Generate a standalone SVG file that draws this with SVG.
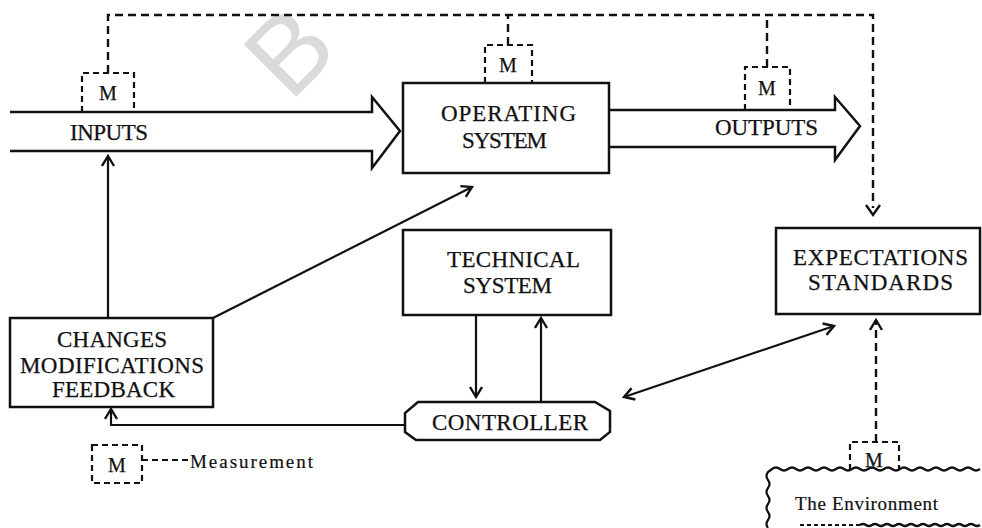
<svg xmlns="http://www.w3.org/2000/svg" width="982" height="528" viewBox="0 0 982 528">
  <defs>
    <style>
      .box { fill: #ffffff; stroke: #111; stroke-width: 2.5; }
      .solid { fill: none; stroke: #111; stroke-width: 2.2; }
      .flow { fill: #ffffff; stroke: #111; stroke-width: 2.5; stroke-linejoin: miter; }
      .dash { fill: none; stroke: #111; stroke-width: 2.4; stroke-dasharray: 8 5; }
      .mbox { fill: none; stroke: #111; stroke-width: 2.2; stroke-dasharray: 6 4; }
      .lbl { font-family: "Liberation Serif", "Times New Roman", serif; font-size: 23px; fill: #111; stroke: #111; stroke-width: 0.25; }
      .m { font-family: "Liberation Serif", "Times New Roman", serif; font-size: 20px; fill: #111; text-anchor: middle; stroke: #111; stroke-width: 0.25; }
      .small { font-family: "Liberation Serif", "Times New Roman", serif; font-size: 19px; fill: #111; stroke: #111; stroke-width: 0.2; }
      .wm { font-family: "Liberation Sans", Arial, sans-serif; font-size: 108px; fill: #dadada; }
    </style>
    <marker id="arr" markerUnits="userSpaceOnUse" markerWidth="16" markerHeight="16" refX="11" refY="7" orient="auto-start-reverse">
      <path d="M1,1 L11,7 L1,13" fill="none" stroke="#111" stroke-width="2.4"/>
    </marker>
  </defs>

  <rect width="982" height="528" fill="#ffffff"/>

  <!-- faint watermark letter -->
  <text class="wm" transform="translate(290,103) rotate(-45)">B</text>

  <!-- flow arrows -->
  <g id="inputs">
    <path class="flow" d="M10,112 L372,112 L372,97 L400,131 L372,168 L372,151 L10,151"/>
    <text class="lbl" x="70" y="140" textLength="78" lengthAdjust="spacing">INPUTS</text>
  </g>
  <g id="outputs">
    <path class="flow" d="M609,110 L835,110 L835,97 L860,126 L835,160 L835,147 L609,147"/>
    <text class="lbl" x="715" y="135" textLength="103" lengthAdjust="spacing">OUTPUTS</text>
  </g>

  <!-- connectors -->
  <g id="connectors">
    <!-- measurement loop along the top -->
    <path class="dash" d="M108,73 L108,15 L873,15 L873,208"/>
    <path class="dash" d="M508,45 L508,15"/>
    <path class="dash" d="M767,67 L767,15"/>
    <path d="M866,205 L873,215 L880,205" fill="none" stroke="#111" stroke-width="2.4"/>
    <!-- environment measurement up to standards -->
    <path class="dash" d="M876,442 L876,320" marker-end="url(#arr)"/>
    <!-- changes to inputs -->
    <path class="solid" d="M108,318 L108,156" marker-end="url(#arr)"/>
    <!-- changes to operating system -->
    <path class="solid" d="M213,318 L472,187" marker-end="url(#arr)"/>
    <!-- technical system and controller -->
    <path class="solid" d="M476,316 L476,397" marker-end="url(#arr)"/>
    <path class="solid" d="M541,402 L541,318" marker-end="url(#arr)"/>
    <!-- controller to changes -->
    <path class="solid" d="M405,425 L111,425 L111,409" marker-end="url(#arr)"/>
    <!-- controller and standards -->
    <path class="solid" d="M624,397 L834,326" marker-start="url(#arr)" marker-end="url(#arr)"/>
  </g>

  <!-- measurement points -->
  <g id="m-inputs">
    <path class="mbox" d="M82,112 L82,73 L134,73 L134,112"/>
    <text class="m" x="108" y="100">M</text>
  </g>
  <g id="m-operating">
    <path class="mbox" d="M485,83 L485,45 L532,45 L532,83"/>
    <text class="m" x="508" y="72">M</text>
  </g>
  <g id="m-outputs">
    <path class="mbox" d="M745,110 L745,67 L790,67 L790,110"/>
    <text class="m" x="767" y="95">M</text>
  </g>
  <g id="m-environment">
    <path class="mbox" d="M850,470 L850,442 L899,442 L899,470"/>
    <text class="m" x="874" y="467">M</text>
  </g>

  <!-- nodes -->
  <g id="operating-system">
    <rect class="box" x="403" y="83" width="206" height="90"/>
    <text class="lbl" x="441" y="121" textLength="135" lengthAdjust="spacing">OPERATING</text>
    <text class="lbl" x="462" y="148" textLength="85" lengthAdjust="spacing">SYSTEM</text>
  </g>
  <g id="technical-system">
    <rect class="box" x="403" y="230" width="208" height="85"/>
    <text class="lbl" x="447" y="267" textLength="133" lengthAdjust="spacing">TECHNICAL</text>
    <text class="lbl" x="463" y="293" textLength="89" lengthAdjust="spacing">SYSTEM</text>
  </g>
  <g id="controller">
    <path class="box" d="M418,402 L595,402 L610,411 L610,432 L600,440 L416,440 L405,432 L405,413 Z"/>
    <text class="lbl" x="432" y="430" textLength="156" lengthAdjust="spacing">CONTROLLER</text>
  </g>
  <g id="changes">
    <rect class="box" x="10" y="318" width="203" height="89"/>
    <text class="lbl" x="57" y="347" textLength="110" lengthAdjust="spacing">CHANGES</text>
    <text class="lbl" x="20" y="373" textLength="184" lengthAdjust="spacing">MODIFICATIONS</text>
    <text class="lbl" x="52" y="397" textLength="123" lengthAdjust="spacing">FEEDBACK</text>
  </g>
  <g id="expectations">
    <rect class="box" x="776" y="228" width="204" height="86"/>
    <text class="lbl" x="793" y="265" textLength="175" lengthAdjust="spacing">EXPECTATIONS</text>
    <text class="lbl" x="808" y="290" textLength="145" lengthAdjust="spacing">STANDARDS</text>
  </g>
  <g id="environment">
    <path fill="none" stroke="#111" stroke-width="2.2" d="M768,528 q-3,-4 0,-8 q3,-4 0,-8 q-3,-4 0,-8 q3,-4 0,-8 q-3,-4 0,-8 q3,-4 0,-8 q-3,-4 0,-8 l4,-3 q4,-3 8,0 q4,3 8,0 q4,-3 8,0 q4,3 8,0 q4,-3 8,0 q4,3 8,0 q4,-3 8,0 q4,3 8,0 q4,-3 8,0 q4,3 8,0 q4,-3 8,0 q4,3 8,0 q4,-3 8,0 q4,3 8,0 q4,-3 8,0 q4,3 8,0 q4,-3 8,0 q4,3 8,0 q4,-3 8,0 q4,3 8,0 q4,-3 8,0 q4,3 8,0 q4,-3 8,0 q4,3 8,0 q4,-3 8,0 q4,3 8,0"/>
    <path fill="none" stroke="#111" stroke-width="2.2" stroke-dasharray="4 3" d="M800,525 L860,525"/>
    <path fill="none" stroke="#111" stroke-width="2.4" d="M860,525 q3,-2 6,0 q3,2 6,0 q3,-2 6,0 q3,2 6,0 q3,-2 6,0 q3,2 6,0 q3,-2 6,0 q3,2 6,0 q3,-2 6,0 q3,2 6,0 q3,-2 6,0 q3,2 6,0 q3,-2 6,0 q3,2 6,0 q3,-2 6,0 q3,2 6,0 q3,-2 6,0 q3,2 6,0 q3,-2 6,0 q3,2 6,0"/>
    <text class="small" x="795" y="510" textLength="143" lengthAdjust="spacing">The Environment</text>
  </g>

  <!-- key -->
  <g id="legend">
    <rect class="mbox" x="92" y="445" width="50" height="38"/>
    <text class="m" x="117" y="472">M</text>
    <path class="dash" d="M142,460 L188,460" style="stroke-dasharray:6 4; stroke-width:1.8"/>
    <text class="small" x="190" y="468" textLength="123" lengthAdjust="spacing">Measurement</text>
  </g>
</svg>
